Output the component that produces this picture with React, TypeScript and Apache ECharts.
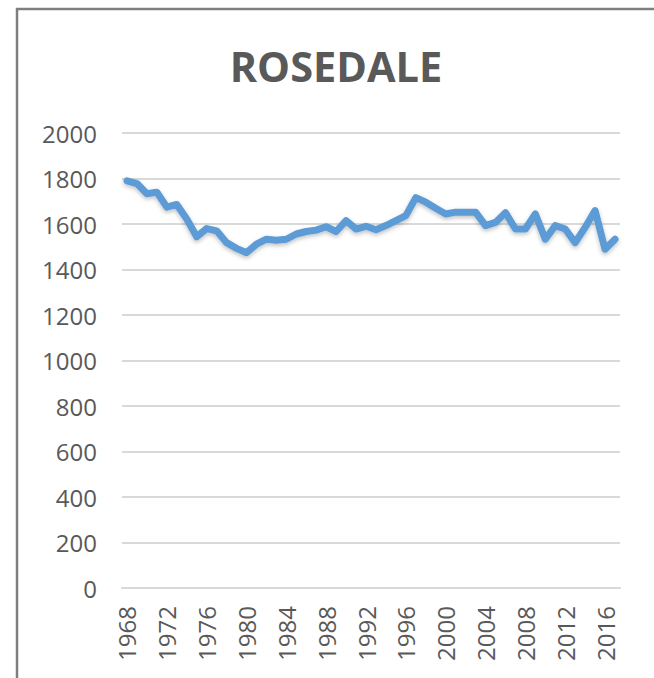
import React, { useEffect, useRef } from "react";
import * as echarts from "echarts";

const years: string[] = [
  "1968", "1969", "1970", "1971", "1972", "1973", "1974", "1975", "1976", "1977",
  "1978", "1979", "1980", "1981", "1982", "1983", "1984", "1985", "1986", "1987",
  "1988", "1989", "1990", "1991", "1992", "1993", "1994", "1995", "1996", "1997",
  "1998", "1999", "2000", "2001", "2002", "2003", "2004", "2005", "2006", "2007",
  "2008", "2009", "2010", "2011", "2012", "2013", "2014", "2015", "2016", "2017",
];

const values: number[] = [
  1790, 1778, 1733, 1740, 1674, 1686, 1622, 1544, 1580, 1570,
  1518, 1493, 1474, 1511, 1533, 1529, 1533, 1556, 1567, 1573,
  1588, 1567, 1615, 1578, 1590, 1575, 1593, 1615, 1637, 1716,
  1696, 1669, 1644, 1652, 1652, 1652, 1593, 1607, 1650, 1578,
  1578, 1644, 1533, 1593, 1578, 1518, 1585, 1659, 1489, 1533,
];

const title = "ROSEDALE";

export default function App() {
  const ref = useRef<HTMLDivElement>(null);
  useEffect(() => {
    if (!ref.current) return;
    const chart = echarts.init(ref.current, undefined, { renderer: "svg" });
    chart.setOption({
      animation: false,
      backgroundColor: "#ffffff",
      title: {
        text: title,
        left: 331,
        textAlign: "center",
        top: 40,
        textStyle: {
          fontFamily: "Open Sans",
          fontWeight: "bold",
          fontSize: 41.5,
          color: "#595959",
        },
      },
      graphic: [
        {
          type: "rect",
          shape: { x: 17, y: 9, width: 700, height: 700 },
          style: { fill: "none", stroke: "#7f7f7f", lineWidth: 2.5 },
          silent: true,
        },
      ],
      grid: { left: 122, right: 34, top: 133, bottom: 90 },
      xAxis: {
        type: "category",
        data: years,
        boundaryGap: true,
        axisLine: { lineStyle: { color: "#d9d9d9", width: 2 } },
        axisTick: { show: false },
        axisLabel: {
          interval: 3,
          rotate: 90,
          margin: 18,
          fontFamily: "Open Sans",
          fontSize: 24,
          color: "#595959",
        },
      },
      yAxis: {
        type: "value",
        min: 0,
        max: 2000,
        interval: 200,
        axisLine: { show: false },
        axisTick: { show: false },
        splitLine: { lineStyle: { color: "#d9d9d9", width: 2 } },
        axisLabel: {
          margin: 25,
          fontFamily: "Open Sans",
          fontSize: 24,
          color: "#595959",
          formatter: (v: number) => String(v),
        },
      },
      series: [
        {
          type: "line",
          data: values,
          symbol: "none",
          lineStyle: {
            color: "#5b9bd5",
            width: 7,
            cap: "round",
            join: "round",
            shadowColor: "rgba(0,0,0,0.25)",
            shadowBlur: 4,
            shadowOffsetY: 2,
          },
        },
      ],
    });
    return () => chart.dispose();
  }, []);
  return (
    <div
      ref={ref}
      style={{ position: "fixed", left: 0, top: 0, width: 654, height: 678 }}
    />
  );
}
